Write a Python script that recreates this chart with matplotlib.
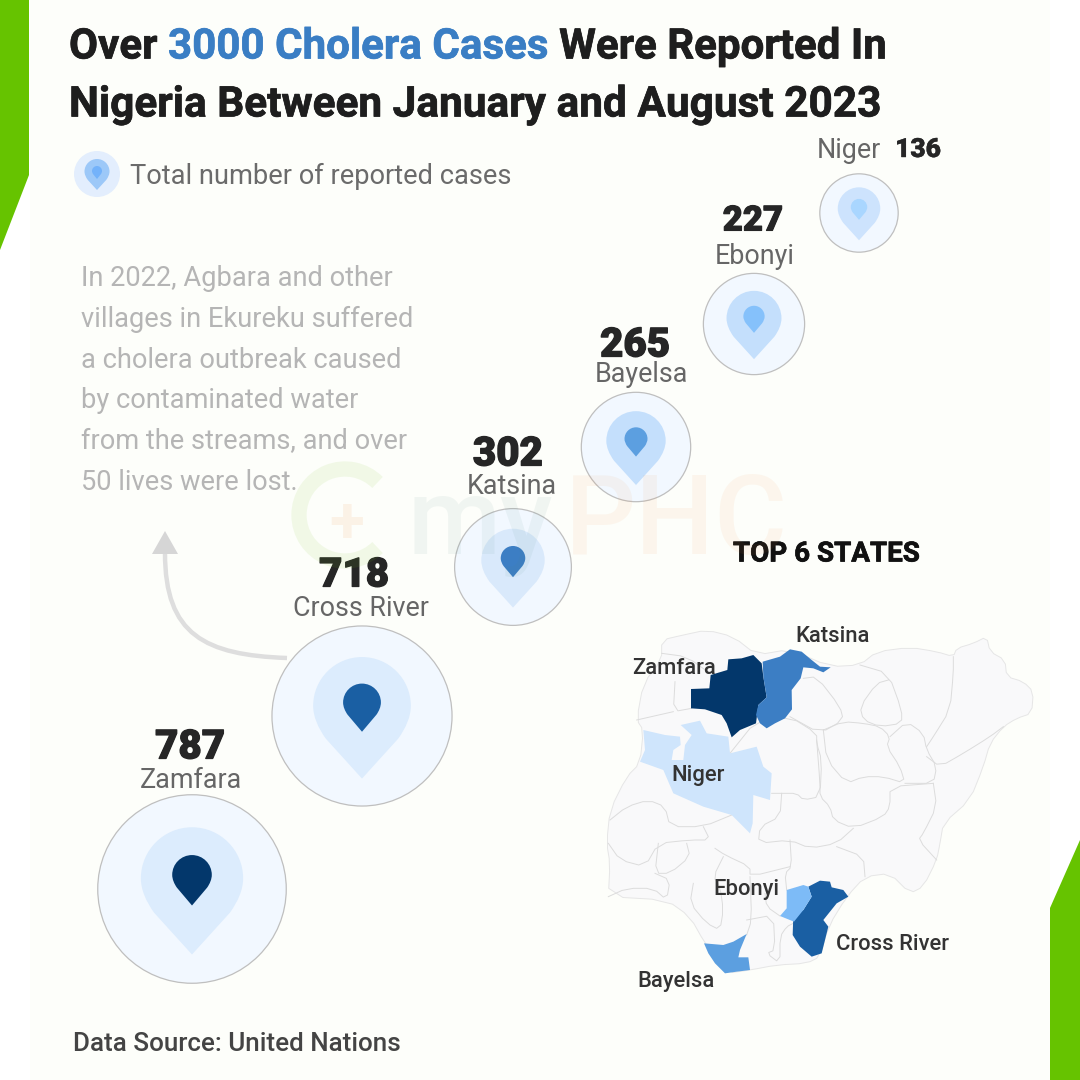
import numpy as np
import matplotlib
matplotlib.use('Agg')
import matplotlib.pyplot as plt
import matplotlib.patheffects as pe
from matplotlib.path import Path
from matplotlib.patches import PathPatch, Circle, Polygon, Arc

plt.rcParams['font.family'] = ['Roboto', 'DejaVu Sans']

# data
states = ['Zamfara', 'Cross River', 'Katsina', 'Bayelsa', 'Ebonyi', 'Niger']
cases = [787, 718, 302, 265, 227, 136]

# layout of the bubbles, pixels
centre_x = [192, 362, 513, 636, 754, 859]
centre_y = [889, 716, 567, 447, 324, 213]
value_y = [747, 575, 454, 345, 221, 150]
value_x = [190, 354, 508, 635, 753, 918]
value_size = [29, 29, 29, 29, 25, 19]
value_stroke = [0.9, 0.9, 0.9, 0.9, 0.8, 0.3]
name_y = [780, 609, 486, 375, 256, 150]
name_x = [191, 361, 512, 641, 755, 849]
pin_colors = ['#03376b', '#1a5fa3', '#3c7ec4', '#5c9fe0', '#85c1fb', '#a9d6ff']
shell_colors = ['#dcecfd', '#dcecfd', '#d9e9fb', '#c4dffc', '#c4dffc', '#cde3fd']
scale = 3.36

note_lines = ['In 2022, Agbara and other', 'villages in Ekureku suffered',
              'a cholera outbreak caused', 'by contaminated water',
              'from the streams, and over', '50 lives were lost.']

# map outlines, traced in the coordinates of a 3x crop at (590, 610)
outline = [(215, 90), (280, 75), (350, 60), (430, 80), (500, 135), (600, 118), (720, 170), (810, 165), (860, 125),
           (960, 112), (1040, 125), (1090, 140), (1100, 115), (1150, 100), (1190, 80), (1200, 125), (1245, 150),
           (1250, 200), (1300, 215), (1330, 245), (1325, 310), (1280, 325), (1240, 350), (1200, 400), (1180, 470),
           (1140, 570), (1060, 640), (1050, 700), (1040, 750), (1000, 830), (960, 850), (900, 790), (825, 800),
           (770, 860), (715, 950), (690, 1040), (650, 1060), (560, 1065), (480, 1080), (410, 1090), (345, 1000),
           (300, 920), (230, 870), (55, 860), (60, 760), (50, 700), (60, 600), (110, 500), (150, 460), (160, 360),
           (140, 330), (160, 220), (215, 150)]
zamfara = [(303, 237), (358, 235), (362, 195), (412, 180), (415, 148), (455, 145), (490, 135), (515, 160),
           (520, 200), (530, 262), (505, 285), (498, 340), (450, 360), (425, 382), (410, 340), (395, 315),
           (345, 298), (303, 295)]
katsina = [(518, 155), (570, 140), (600, 118), (635, 125), (665, 150), (690, 170), (722, 172), (700, 187),
           (670, 175), (640, 172), (632, 205), (605, 240), (606, 298), (585, 325), (555, 340), (530, 355),
           (510, 340), (498, 315), (505, 285), (530, 262), (520, 200)]
niger = [(160, 360), (225, 375), (270, 380), (272, 405), (250, 420), (245, 450), (280, 450), (285, 405), (305, 375),
         (272, 345), (330, 332), (350, 370), (415, 380), (420, 430), (460, 420), (500, 410), (520, 470), (545, 490),
         (540, 570), (490, 555), (488, 640), (480, 670), (425, 615), (340, 590), (250, 550), (220, 480), (150, 455),
         (165, 420)]
cross_river = [(655, 830), (690, 812), (720, 815), (725, 832), (760, 840), (775, 860), (740, 880), (700, 930),
               (715, 950), (695, 1030), (665, 1040), (630, 1010), (608, 975), (610, 915), (640, 900), (665, 860)]
ebonyi = [(590, 840), (640, 825), (655, 830), (665, 860), (640, 900), (612, 935), (570, 918), (590, 895)]
bayelsa = [(342, 1000), (400, 1005), (430, 995), (470, 972), (450, 1020), (445, 1042), (475, 1042), (480, 1080),
           (440, 1085), (405, 1090), (375, 1060), (355, 1030)]
borders = [
    [(215, 130), (290, 140), (360, 190)], [(255, 215), (250, 305), (305, 295)], [(140, 330), (250, 305)],
    [(640, 205), (680, 200), (750, 290), (760, 330), (690, 370), (600, 320)],
    [(810, 165), (895, 190), (935, 300), (935, 340), (870, 350), (820, 330), (810, 290), (860, 220), (895, 210)],
    [(1090, 140), (1090, 190), (1080, 300), (1030, 380), (1010, 410)],
    [(700, 360), (760, 335), (820, 340), (870, 350), (900, 380), (890, 410), (930, 470), (945, 520), (880, 500),
     (820, 500), (770, 520), (710, 450), (700, 360)],
    [(900, 380), (950, 335), (1000, 370), (1010, 420), (1040, 470), (1030, 520), (945, 520)],
    [(1010, 440), (1050, 470), (1120, 430), (1200, 380), (1240, 350)],
    [(1030, 520), (900, 530), (900, 590), (880, 620), (790, 655), (730, 630), (720, 590), (690, 560), (690, 520),
     (680, 390)],
    [(1030, 520), (1040, 590), (1000, 670), (985, 690), (1040, 750)],
    [(420, 430), (500, 330), (600, 320), (680, 370), (680, 400), (695, 450), (690, 560), (640, 570), (620, 550),
     (575, 550), (545, 550)],
    [(575, 550), (570, 620), (510, 650), (505, 700), (600, 690), (660, 715), (740, 700), (790, 655)],
    [(600, 690), (605, 770), (585, 790), (590, 840)], [(740, 710), (820, 740), (825, 800)],
    [(60, 630), (110, 590), (175, 570), (225, 590), (240, 650), (340, 650), (425, 615)],
    [(55, 700), (90, 750), (165, 770), (205, 700), (300, 690), (360, 690), (340, 650)],
    [(205, 700), (195, 790), (240, 790), (300, 740), (290, 700)],
    [(375, 715), (405, 735), (480, 770), (480, 800), (600, 770)],
    [(55, 860), (110, 835), (190, 835), (230, 870), (240, 810), (195, 790)],
    [(310, 820), (300, 880), (350, 940), (390, 960), (400, 900), (390, 830), (370, 800), (400, 740)],
    [(480, 800), (485, 930), (470, 975)], [(470, 930), (550, 915), (555, 1020), (530, 1030), (570, 1060),
                                           (570, 980), (590, 950), (610, 940)],
    [(525, 850), (530, 890), (570, 918)],
]
map_labels = ['Katsina', 'Zamfara', 'Niger', 'Ebonyi', 'Cross River', 'Bayelsa']
map_label_x = [833, 674, 698, 746, 893, 676]
map_label_y = [636, 669, 776, 890, 945, 982]


def to_px(points):
    return [(590 + x / 3, 610 + y / 3) for x, y in points]


def soften(points, closed=False):
    # one pass of corner cutting so the grey borders are less angular
    pts = np.array(points, dtype=float)
    if closed:
        pts = np.vstack([pts, pts[0]])
    out = [pts[0]] if not closed else []
    for a, b in zip(pts[:-1], pts[1:]):
        out.append(0.75 * a + 0.25 * b)
        out.append(0.25 * a + 0.75 * b)
    if not closed:
        out.append(pts[-1])
    return np.array(out)


def pin(ax, cx, top, w, h, color, zorder):
    # teardrop: round head, straight sides down to a point
    r = w / 2
    k = 0.5523 * r
    mid = top + r
    foot = top + h
    d = foot - mid
    tx = r * np.sqrt(1 - (r / d) ** 2)
    ty = mid + r * r / d
    verts = [(cx, foot), (cx - tx, ty),
             (cx - r * 0.9, mid + r * 0.45), (cx - r, mid + r * 0.22), (cx - r, mid),
             (cx - r, mid - k), (cx - k, top), (cx, top),
             (cx + k, top), (cx + r, mid - k), (cx + r, mid),
             (cx + r, mid + r * 0.22), (cx + r * 0.9, mid + r * 0.45), (cx + tx, ty),
             (cx, foot)]
    codes = [Path.MOVETO, Path.LINETO] + [Path.CURVE4] * 12 + [Path.LINETO]
    ax.add_patch(PathPatch(Path(verts, codes), fc=color, ec='none', zorder=zorder))


fig = plt.figure(figsize=(10.8, 10.8), dpi=100, facecolor='white')
ax = fig.add_axes([0, 0, 1, 1])
ax.set_xlim(0, 1080)
ax.set_ylim(1080, 0)
ax.axis('off')

# page
ax.add_patch(Polygon([(30, 0), (1050, 0), (1050, 1080), (30, 1080)], fc='#fdfefa', ec='none', zorder=0))
ax.add_patch(Polygon([(0, 0), (29, 0), (29, 175), (0, 250)], fc='#66c300', ec='none', zorder=1))
ax.add_patch(Polygon([(1080, 840), (1050, 908), (1050, 1080), (1080, 1080)], fc='#66c300', ec='none', zorder=1))

# title, three colours on the first line
title_fx = [pe.withStroke(linewidth=0.5, foreground='#1e1e1e')]
x = 69
for part, color in [('Over ', '#1e1e1e'), ('3000 Cholera Cases', '#3a7ec4'), (' Were Reported In', '#1e1e1e')]:
    t = ax.text(x, 47, part.replace(' ', '\u00a0'), fontsize=30.3, fontweight='bold', color=color,
                ha='left', va='center')
    t.set_path_effects([pe.withStroke(linewidth=0.5, foreground=color)])
    x = x + t.get_window_extent(fig.canvas.get_renderer()).width
ax.text(69, 105, 'Nigeria Between January and August 2023', fontsize=30.5, fontweight='bold',
        color='#1e1e1e', ha='left', va='center', path_effects=title_fx)

# legend
ax.add_patch(Circle((97, 174), 23, fc='#e3eefd', ec='none'))
pin(ax, 97, 159, 25, 31, '#9cc8f8', 3)
pin(ax, 97, 166, 10, 13, '#73b2fa', 4)
ax.text(130, 176, 'Total number of reported cases', fontsize=19.6, color='#6b6b6b', ha='left', va='center')

# note and arrow
for i, line in enumerate(note_lines):
    ax.text(81, 278 + i * 41, line, fontsize=19.6, color='#b5b5b5', ha='left', va='center')
arrow = Path([(287, 658), (205, 655), (165, 635), (165, 553)], [Path.MOVETO, Path.CURVE4, Path.CURVE4, Path.CURVE4])
ax.add_patch(PathPatch(arrow, fc='none', ec='#dedede', lw=3.2, zorder=2))
ax.add_patch(Polygon([(152, 554), (178, 554), (165, 531)], fc='#d6d6d6', ec='none', zorder=2))

# bubbles, area follows the number of cases
for i, state in enumerate(states):
    r = scale * np.sqrt(cases[i])
    cx, cy = centre_x[i], centre_y[i]
    ax.add_patch(Circle((cx, cy), r, fc='#f2f8ff', ec='#bfbfbf', lw=0.9, zorder=3))
    pin(ax, cx, cy - 0.655 * r, 1.085 * r, 1.35 * r, shell_colors[i], 4)
    pin(ax, cx, cy - 0.36 * r, 0.42 * r, 0.535 * r, pin_colors[i], 5)
    ax.text(value_x[i], value_y[i], str(cases[i]), fontsize=value_size[i], fontweight='black', color='#262626',
            ha='center', va='center', zorder=6,
            path_effects=[pe.withStroke(linewidth=value_stroke[i], foreground='#262626')])
    ax.text(name_x[i], name_y[i], state, fontsize=19.4, color='#666666', ha='center', va='center', zorder=6)

# map
ax.text(826, 554, 'TOP 6 STATES', fontsize=20, fontweight='bold', color='#111111', ha='center', va='center',
        zorder=6, path_effects=[pe.withStroke(linewidth=0.5, foreground='#111111')])
ax.add_patch(Polygon(soften(to_px(outline), closed=True), closed=True, fc='#f9f9fa', ec='#e6e6e6', lw=0.7, zorder=2))
for line in borders:
    pts = soften(to_px(line))
    ax.plot(pts[:, 0], pts[:, 1], color='#dcdcdc', lw=0.7, zorder=2)
for shape, color in [(zamfara, '#03376b'), (katsina, '#3c7ec4'), (niger, '#cfe5fc'), (cross_river, '#1a5fa3'),
                     (ebonyi, '#7dbbf7'), (bayelsa, '#5c9fe0')]:
    ax.add_patch(Polygon(to_px(shape), closed=True, fc=color, ec='none', zorder=3))
for name, lx, ly in zip(map_labels, map_label_x, map_label_y):
    ax.text(lx, ly, name, fontsize=15.8, fontweight='medium', color='#333333', ha='center', va='center', zorder=6)

ax.text(73, 1044, 'Data Source: United Nations', fontsize=18.7, fontweight='medium', color='#444444',
        ha='left', va='center')

# watermark, faint and on top of the bubbles
ax.add_patch(Arc((345, 515), 92, 92, theta1=45, theta2=315, ec='#7cc520', alpha=0.09, lw=11, zorder=7))
ax.text(347, 525, '+', fontsize=46, fontweight='bold', color='#f08a3c', alpha=0.1, ha='center', va='center', zorder=7)
ax.text(408, 554, 'my', fontsize=77, fontweight='medium', color='#4f8a80', alpha=0.07, ha='left', va='baseline',
        zorder=7)
ax.text(565, 554, 'PHC', fontsize=80, fontweight='medium', color='#f08a3c', alpha=0.07, ha='left', va='baseline',
        zorder=7)

fig.savefig('out.png', dpi=100, facecolor='white')
